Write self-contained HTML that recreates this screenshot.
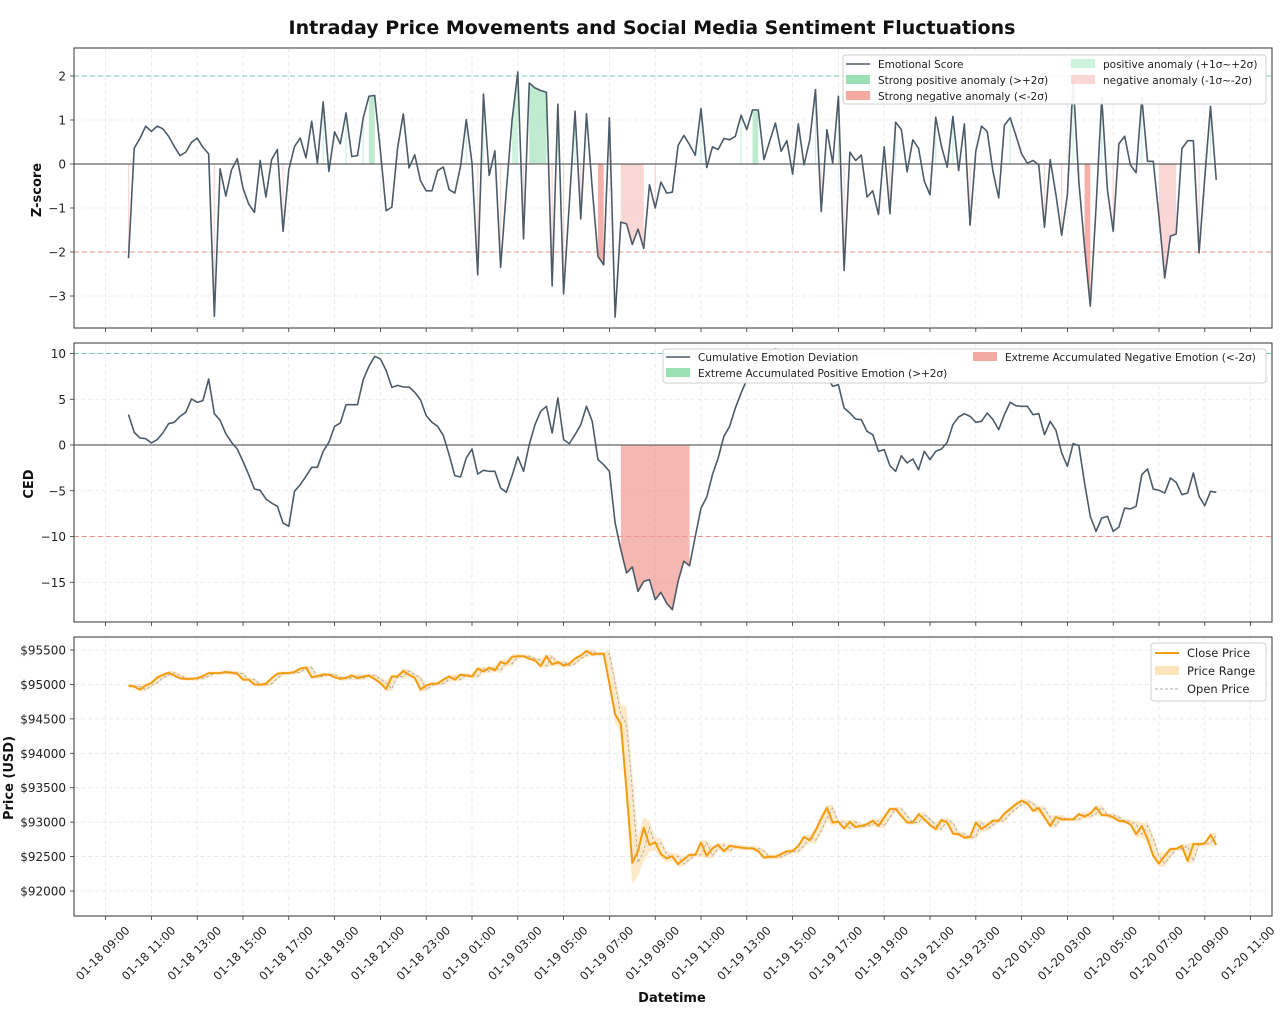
<!DOCTYPE html>
<html><head><meta charset="utf-8"><style>
html,body{margin:0;padding:0;background:#fff;}
svg{display:block;font-family:"DejaVu Sans","Liberation Sans",sans-serif;}
</style></head><body>
<svg id="chart" width="1280" height="1015" viewBox="0 0 1280 1015" xmlns="http://www.w3.org/2000/svg">
<rect x="0" y="0" width="1280" height="1015" fill="#fff"/>
<text x="652" y="34" text-anchor="middle" font-size="19" font-weight="bold" fill="#111">Intraday Price Movements and Social Media Sentiment Fluctuations</text>
<g id="p1"></g>
<g id="p2"></g>
<g id="p3"></g>
<text transform="translate(41,190) rotate(-90)" text-anchor="middle" font-size="13" font-weight="bold" fill="#111">Z-score</text>
<text transform="translate(33,484) rotate(-90)" text-anchor="middle" font-size="13" font-weight="bold" fill="#111">CED</text>
<text transform="translate(13,778) rotate(-90)" text-anchor="middle" font-size="13" font-weight="bold" fill="#111">Price (USD)</text>
<text x="672" y="1002" text-anchor="middle" font-size="13" font-weight="bold" fill="#111">Datetime</text>
</svg>
<script>
// ---- data (15-minute steps starting 01-18 10:00) ----
const startHour = 1; // hours after 01-18 09:00
const stepHours = 0.25;
const zScores = [-2.14,0.36,0.58,0.86,0.74,0.86,0.80,0.63,0.40,0.19,
0.27,0.49,0.59,0.38,0.23,-3.46,-0.11,-0.73,-0.13,0.12,
-0.55,-0.91,-1.10,0.08,-0.75,0.10,0.33,-1.53,-0.13,0.40,
0.59,0.14,0.97,0.02,1.41,-0.17,0.73,0.46,1.16,0.17,
0.19,1.05,1.54,1.56,0.30,-1.06,-0.98,0.36,1.14,-0.09,
0.21,-0.38,-0.61,-0.61,-0.15,-0.07,-0.58,-0.66,-0.05,1.01,
0.02,-2.52,1.59,-0.26,0.30,-2.35,-0.60,1.00,2.09,-1.70,
1.84,1.73,1.67,1.63,-2.77,1.36,-2.95,-0.90,1.20,-1.25,
1.14,-0.55,-2.10,-2.29,1.05,-3.48,-1.32,-1.36,-1.83,-1.48,
-1.92,-0.47,-1.00,-0.41,-0.66,-0.64,0.42,0.65,0.44,0.20,
1.26,-0.08,0.39,0.33,0.58,0.55,0.63,1.11,0.78,1.23,
1.23,0.10,0.52,0.93,0.29,0.53,-0.23,0.91,-0.02,0.55,
1.69,-1.08,0.78,0.02,1.54,-2.42,0.27,0.08,0.20,-0.75,
-0.61,-1.15,0.39,-1.13,0.95,0.78,-0.18,0.55,0.36,-0.39,
-0.70,1.06,0.40,-0.07,1.08,-0.15,0.91,-1.39,0.29,0.86,
0.74,-0.17,-0.77,0.88,1.05,0.65,0.23,0.02,0.08,-0.02,
-1.44,0.10,-0.70,-1.62,-0.70,1.90,-0.40,-1.90,-3.23,-1.00,
1.50,-0.60,-1.53,0.46,0.63,-0.02,-0.20,1.50,0.06,0.06,
-1.20,-2.59,-1.64,-1.59,0.35,0.53,0.53,-2.02,-0.30,1.31,-0.36];
const strongPosIdx = [42,43,70,71,72,73,109,110];
const strongNegIdx = [82,83,167,168];
const lightPosIdx = [34,38,41,59,62,67,68,75,78,100,107,120,124,134,141,144,154,165,170,177,189];
const lightNegIdx = [0,15,27,61,65,69,74,76,79,86,87,88,89,90,92,121,125,133,147,160,163,166,172,180,181,182,183,187];
const ced = [3.32,1.38,0.77,0.69,0.22,0.58,1.31,2.33,2.48,3.13,
3.57,5.03,4.66,4.85,7.21,3.42,2.70,1.24,0.29,-0.44,
-1.79,-3.24,-4.81,-4.95,-5.90,-6.34,-6.70,-8.52,-8.89,-5.06,
-4.34,-3.42,-2.44,-2.44,-0.69,0.29,2.04,2.40,4.41,4.41,
4.41,7.14,8.60,9.69,9.40,8.16,6.30,6.52,6.34,6.34,
5.76,4.95,3.21,2.48,2.04,1.02,-1.06,-3.35,-3.50,-1.42,
-0.44,-3.17,-2.77,-2.88,-2.88,-4.70,-5.17,-3.35,-1.31,-2.88,
0.04,2.22,3.68,4.23,1.31,5.14,0.58,0.15,1.13,2.22,
4.23,2.59,-1.60,-2.15,-2.88,-8.52,-11.44,-13.99,-13.33,-15.99,
-14.90,-14.72,-16.90,-16.10,-17.3,-18.0,-14.9,-12.7,-13.2,-10.0,
-6.9,-5.7,-3.24,-1.42,0.95,2.04,4.04,5.68,7.14,8.23,
9.2,9.8,10.3,10.5,10.2,9.6,9.2,8.8,8.3,8.0,
7.6,7.4,7.50,6.41,6.59,4.04,3.50,2.84,2.77,1.49,
1.13,-0.69,-0.51,-2.26,-2.88,-1.17,-1.97,-1.53,-2.70,-0.69,
-1.60,-0.69,-0.44,0.29,2.22,3.06,3.42,3.13,2.48,2.59,
3.50,2.77,1.68,3.32,4.66,4.30,4.23,4.23,3.32,3.42,
1.13,2.59,1.60,-0.87,-2.33,0.15,-0.07,-4.15,-7.80,-9.44,
-7.98,-7.80,-9.44,-8.96,-6.89,-6.99,-6.70,-3.24,-2.62,-4.81,
-4.95,-5.25,-3.61,-4.08,-5.43,-5.25,-3.06,-5.61,-6.63,-5.06,-5.17];
const cedNegStart = 86, cedNegEnd = 98;
const closes = [94980,94970,94925,94985,95020,95100,95140,95170,95130,95090,
95080,95080,95090,95120,95165,95165,95165,95180,95170,95155,
95070,95070,95000,94995,95010,95090,95155,95165,95165,95180,
95230,95245,95105,95120,95145,95140,95105,95080,95095,95130,
95090,95115,95130,95080,95020,94935,95115,95115,95195,95140,
95095,94925,94985,95010,95010,95070,95115,95070,95140,95130,
95115,95230,95190,95240,95205,95325,95300,95400,95410,95410,
95375,95350,95265,95410,95290,95325,95275,95300,95375,95420,
95485,95435,95445,95445,95010,94565,94425,93455,92410,92580,
92920,92670,92705,92535,92475,92505,92390,92460,92525,92525,
92705,92510,92620,92670,92580,92655,92640,92630,92620,92620,
92580,92485,92500,92495,92535,92575,92580,92655,92785,92735,
92875,93055,93205,92995,93005,92910,93005,92930,92945,92970,
93020,92945,93070,93190,93190,93090,92995,92995,93115,93040,
92960,92900,93030,92995,92835,92825,92775,92785,92995,92900,
92960,93020,93020,93125,93190,93260,93310,93270,93165,93205,
93070,92945,93075,93040,93040,93040,93115,93080,93125,93215,
93105,93100,93070,93020,93010,92970,92825,92945,92755,92510,
92400,92510,92610,92610,92655,92435,92680,92680,92690,92815,92670];
const firstOpen = 94990;
const wicks = [25,25,30,25,25,25,25,25,25,25, 25,25,25,25,25,25,25,25,25,25,
25,25,25,25,25,25,25,25,25,25, 25,25,25,25,25,25,25,25,25,25,
25,25,25,25,30,40,30,25,40,25, 25,30,25,25,25,25,25,25,25,25,
25,25,25,25,25,40,40,40,30,25, 25,25,25,25,25,25,25,25,25,25,
25,25,25,25,60,120,150,250,300,200, 150,100,80,60,50,40,40,30,30,30,
30,30,30,30,30,30,30,30,30,30, 30,30,30,30,30,30,30,30,30,30,
50,50,50,50,30,30,30,30,30,30, 30,30,30,30,30,30,30,30,30,30,
30,30,30,30,30,30,30,30,30,30, 30,30,30,30,30,30,30,30,30,30,
30,30,30,30,30,30,30,30,30,30, 30,30,30,30,30,30,50,50,50,50,
50,50,30,30,30,30,30,30,30,30,30];
const tickHours = [0,2,4,6,8,10,12,14,16,18,20,22,24,26,28,30,32,34,36,38,40,42,44,46,48,50];
const tickLabels = ["01-18 09:00","01-18 11:00","01-18 13:00","01-18 15:00","01-18 17:00","01-18 19:00","01-18 21:00","01-18 23:00","01-19 01:00","01-19 03:00","01-19 05:00","01-19 07:00","01-19 09:00","01-19 11:00","01-19 13:00","01-19 15:00","01-19 17:00","01-19 19:00","01-19 21:00","01-19 23:00","01-20 01:00","01-20 03:00","01-20 05:00","01-20 07:00","01-20 09:00","01-20 11:00"];
const zTicks = [2,1,0,-1,-2,-3];
const cedTicks = [10,5,0,-5,-10,-15];
const priceTicks = [95500,95000,94500,94000,93500,93000,92500,92000];

// ---- scales ----
const NS = "http://www.w3.org/2000/svg";
const L = 74, R = 1272;
const xH = h => 105.6 + h * 22.9;
const xI = i => xH(startHour + i * stepHours);
const panels = [{top:48,bot:328},{top:343,bot:622},{top:637,bot:916}];
const y1 = v => 164 - 44 * v;
const y2 = v => 445 - 9.15 * v;
const y3 = p => 650 - (p - 95500) * 0.06886;

function el(tag, attrs, parent, text) {
  const e = document.createElementNS(NS, tag);
  for (const k in attrs) e.setAttribute(k, attrs[k]);
  if (text !== undefined) e.textContent = text;
  parent.appendChild(e);
  return e;
}
const p1 = document.getElementById('p1'), p2 = document.getElementById('p2'), p3 = document.getElementById('p3');
const pg = [p1, p2, p3];

pg.forEach((g, k) => {
  const P = panels[k];
  tickHours.forEach((h, j) => {
    const x = xH(h);
    const gl = el('line', {x1:x, x2:x, y1:P.top, y2:P.bot, stroke:'#e6e6e6', 'stroke-width':0.8, 'stroke-dasharray':'4,3'}, g);
    
    
    const tk = el('line', {x1:x, x2:x, y1:P.bot, y2:P.bot + 4, stroke:'#333', 'stroke-width':0.8}, g);
    
    
    if (k === 2) {
      const t = el('text', {transform:`translate(${x},956) rotate(-45)`, 'text-anchor':'middle', 'font-size':11.5, fill:'#222'}, g, tickLabels[j]);
      
      
    }
  });
});
function yAxis(g, ticks, sc, fmt) {
  ticks.forEach(v => {
    const y = sc(v);
    const gl = el('line', {x1:L, x2:R, y1:y, y2:y, stroke:'#e6e6e6', 'stroke-width':0.8, 'stroke-dasharray':'4,3'}, g);
    
    
    const tk = el('line', {x1:L - 4, x2:L, y1:y, y2:y, stroke:'#333', 'stroke-width':0.8}, g);
    
    
    const t = el('text', {x:L - 8, y:y + 4.5, 'text-anchor':'end', 'font-size':12, fill:'#222'}, g, fmt(v));
    
    
  });
}
const minus = v => (v < 0 ? '\u2212' + Math.abs(v) : String(v));
yAxis(p1, zTicks, y1, minus);
yAxis(p2, cedTicks, y2, minus);
yAxis(p3, priceTicks, y3, v => '$' + v);

function runs(idx) {
  const s = [...idx].sort((a, b) => a - b), out = [];
  s.forEach(i => { if (out.length && out[out.length - 1][1] === i - 1) out[out.length - 1][1] = i; else out.push([i, i]); });
  return out;
}
function drawFlags(idx, color, op, name) {
  runs(idx).forEach(([a, b]) => {
    if (a === b) {
      const ln = el('line', {x1:xI(a), x2:xI(a), y1:y1(0), y2:y1(zScores[a]), stroke:color, 'stroke-width':1.2, opacity:op}, p1);
      
      
    } else {
      let d = `M${xI(a)},${y1(0)}`;
      for (let i = a; i <= b; i++) d += ` L${xI(i)},${y1(zScores[i])}`;
      d += ` L${xI(b)},${y1(0)}Z`;
      const pth = el('path', {d, fill:color, opacity:op}, p1);
      
      
    }
  });
}
drawFlags(lightPosIdx, '#abebc6', 0.6, 'positive-anomaly-fill');
drawFlags(lightNegIdx, '#f5b7b1', 0.55, 'negative-anomaly-fill');
drawFlags(strongPosIdx, '#7fd9a3', 0.5, 'strong-positive-anomaly-fill');
drawFlags(strongNegIdx, '#ec7063', 0.55, 'strong-negative-anomaly-fill');
function refLines(g, sc, hi, lo) {
  const a = el('line', {x1:L, x2:R, y1:sc(hi), y2:sc(hi), stroke:'#7dcea0', 'stroke-width':1, 'stroke-dasharray':'5,3'}, g);
  
  
  const b = el('line', {x1:L, x2:R, y1:sc(lo), y2:sc(lo), stroke:'#f1948a', 'stroke-width':1, 'stroke-dasharray':'5,3'}, g);
  
  
  const c = el('line', {x1:L, x2:R, y1:sc(0), y2:sc(0), stroke:'#666', 'stroke-width':1.3}, g);
  
  
}
refLines(p1, y1, 2, -2);
const zl = el('polyline', {points:zScores.map((v, i) => `${xI(i)},${y1(v)}`).join(' '), fill:'none', stroke:'#4d5b69', 'stroke-width':1.6, 'stroke-linejoin':'round'}, p1);



{
  let d = `M${xI(cedNegStart)},${y2(0)}`;
  for (let i = cedNegStart; i <= cedNegEnd; i++) d += ` L${xI(i)},${y2(ced[i])}`;
  d += ` L${xI(cedNegEnd)},${y2(0)}Z`;
  const f = el('path', {d, fill:'#ec7063', opacity:0.5}, p2);
  
  
}
refLines(p2, y2, 10, -10);
const cl = el('polyline', {points:ced.map((v, i) => `${xI(i)},${y2(v)}`).join(' '), fill:'none', stroke:'#4d5b69', 'stroke-width':1.6, 'stroke-linejoin':'round'}, p2);



const opens = closes.map((c, i) => (i === 0 ? firstOpen : closes[i - 1]));
const highs = closes.map((c, i) => Math.max(c, opens[i]) + wicks[i]);
const lows = closes.map((c, i) => Math.min(c, opens[i]) - wicks[i]);
{
  let d = highs.map((v, i) => `${i ? 'L' : 'M'}${xI(i)},${y3(v)}`).join(' ');
  for (let i = lows.length - 1; i >= 0; i--) d += ` L${xI(i)},${y3(lows[i])}`;
  const band = el('path', {d: d + 'Z', fill:'#fbd8a0', opacity:0.55}, p3);
  
  
}
const ol = el('polyline', {points:opens.map((v, i) => `${xI(i)},${y3(v)}`).join(' '), fill:'none', stroke:'#aaa', 'stroke-width':0.9, 'stroke-dasharray':'3,2'}, p3);


const pl = el('polyline', {points:closes.map((v, i) => `${xI(i)},${y3(v)}`).join(' '), fill:'none', stroke:'#f39c12', 'stroke-width':2, 'stroke-linejoin':'round'}, p3);



pg.forEach((g, k) => {
  const P = panels[k];
  const fr = el('rect', {x:L, y:P.top, width:R - L, height:P.bot - P.top, fill:'none', stroke:'#333', 'stroke-width':1}, g);
  
  
});

function legendBox(g, x, y, w, h) {
  const b = el('rect', {x, y, width:w, height:h, rx:3, fill:'#fff', 'fill-opacity':0.92, stroke:'#d0d0d0'}, g);
  
  
}
function legLine(g, x, y, color, w, dash, label, fs) {
  const l = el('line', {x1:x, x2:x + 24, y1:y, y2:y, stroke:color, 'stroke-width':w}, g);
  if (dash) l.setAttribute('stroke-dasharray', dash);
  
  
  const t = el('text', {x:x + 32, y:y + 4, 'font-size':fs, fill:'#222'}, g, label);
  
  
}
function legPatch(g, x, y, color, op, label, fs) {
  const r = el('rect', {x, y:y - 5, width:24, height:9, fill:color, opacity:op}, g);
  
  
  const t = el('text', {x:x + 32, y:y + 4, 'font-size':fs, fill:'#222'}, g, label);
  
  
}
legendBox(p1, 843, 55, 423, 49);
legLine(p1, 846, 64, '#4d5b69', 1.6, null, 'Emotional Score', 10.5);
legPatch(p1, 846, 80, '#7fd9a3', 0.8, 'Strong positive anomaly (>+2\u03c3)', 10.5);
legPatch(p1, 846, 96, '#ec7063', 0.6, 'Strong negative anomaly (<-2\u03c3)', 10.5);
legPatch(p1, 1071, 64, '#abebc6', 0.6, 'positive anomaly (+1\u03c3~+2\u03c3)', 10.5);
legPatch(p1, 1071, 80, '#f5b7b1', 0.55, 'negative anomaly (-1\u03c3~-2\u03c3)', 10.5);
legendBox(p2, 663, 349, 603, 34);
legLine(p2, 666, 357, '#4d5b69', 1.6, null, 'Cumulative Emotion Deviation', 10.5);
legPatch(p2, 666, 373, '#7fd9a3', 0.8, 'Extreme Accumulated Positive Emotion (>+2\u03c3)', 10.5);
legPatch(p2, 973, 357, '#ec7063', 0.6, 'Extreme Accumulated Negative Emotion (<-2\u03c3)', 10.5);
legendBox(p3, 1151, 643, 115, 58);
legLine(p3, 1155, 653, '#f39c12', 2, null, 'Close Price', 11.5);
legPatch(p3, 1155, 671, '#fbd8a0', 0.7, 'Price Range', 11.5);
legLine(p3, 1155, 689, '#aaa', 0.9, '3,2', 'Open Price', 11.5);
</script>
</body></html>
